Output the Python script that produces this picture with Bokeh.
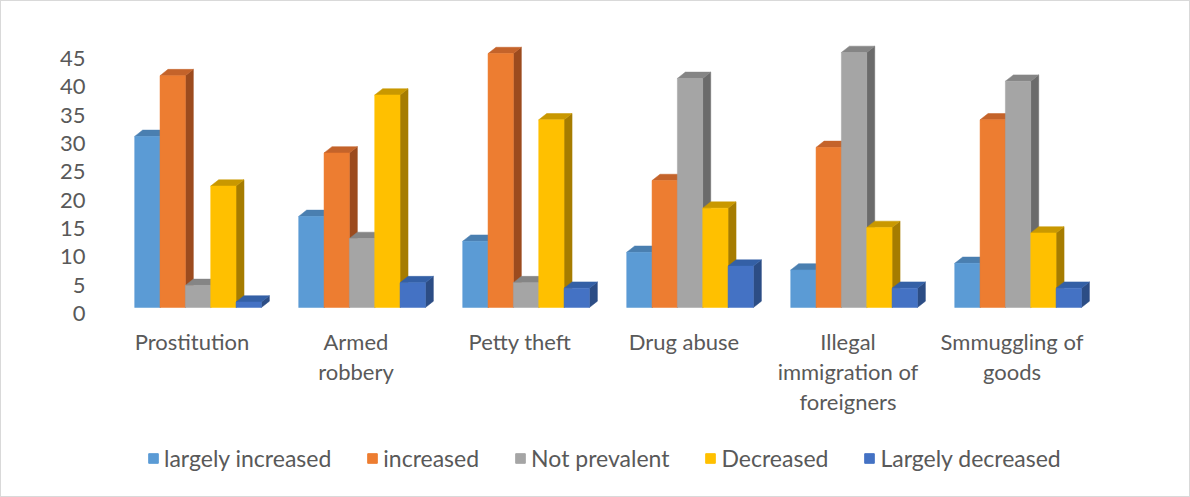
from bokeh.plotting import figure
from bokeh.models import Range1d, LinearAxis, FixedTicker, Legend, LegendItem
from bokeh.layouts import column
from bokeh.embed import file_html
from bokeh.resources import INLINE

# ---- data ----
categories = ["Prostitution", "Armed robbery", "Petty theft", "Drug abuse",
              "Illegal immigration of foreigners", "Smmuggling of goods"]
category_labels = ["Prostitution", "Armed\nrobbery", "Petty theft", "Drug abuse",
                   "Illegal\nimmigration of\nforeigners", "Smmuggling of\ngoods"]
series_names = ["largely increased", "increased", "Not prevalent", "Decreased", "Largely decreased"]
largely_increased = [31, 16.5, 12, 10, 6.8, 8]
increased = [42, 28, 46, 23, 29, 34]
not_prevalent = [4, 12.5, 4.5, 41.5, 46.2, 41]
decreased = [22, 38.5, 34, 18, 14.5, 13.5]
largely_decreased = [1, 4.5, 3.5, 7.5, 3.5, 3.5]
y_ticks = [0, 5, 10, 15, 20, 25, 30, 35, 40, 45]

series_values = [largely_increased, increased, not_prevalent, decreased, largely_decreased]

front_colors = ["#5B9BD5", "#ED7D31", "#A5A5A5", "#FFC000", "#4472C4"]
top_colors = ["#4A7FB0", "#C4632A", "#858585", "#C99800", "#3460A6"]
side_colors = ["#3F6C97", "#9C4B1E", "#6B6B6B", "#A67C00", "#2C4D85"]

FONT = "Lato"
TEXT = "#595959"
BORDER = "1px solid #D9D9D9"

W = 1190
p = figure(width=W, height=430, output_backend="svg", toolbar_location=None,
           x_range=Range1d(-0.619, 6.027), y_range=Range1d(-2.536, 50.0),
           x_axis_location=None, y_axis_location=None,
           min_border_left=95, min_border_right=5, min_border_top=30, min_border_bottom=110)
p.xgrid.visible = False
p.ygrid.visible = False
p.outline_line_color = None
p.background_fill_color = "white"
p.border_fill_color = "white"
p.styles = {"border-top": BORDER, "border-left": BORDER, "border-right": BORDER,
            "box-sizing": "border-box"}

# axes on shifted ranges (3D floor front edge)
p.extra_y_ranges = {"ax": Range1d(-1.41, 49.76)}
p.extra_x_ranges = {"ax": Range1d(-0.582, 6.064)}

yaxis = LinearAxis(y_range_name="ax", ticker=FixedTicker(ticks=y_ticks))
yaxis.axis_line_color = None
yaxis.major_tick_line_color = None
yaxis.minor_tick_line_color = None
yaxis.major_label_text_font = FONT
yaxis.major_label_text_font_size = "22px"
yaxis.major_label_text_color = TEXT
yaxis.major_label_standoff = 5
p.add_layout(yaxis, "left")

xaxis = LinearAxis(x_range_name="ax", ticker=FixedTicker(ticks=list(range(len(categories)))),
                   major_label_overrides={i: lab for i, lab in enumerate(category_labels)})
xaxis.axis_line_color = None
xaxis.major_tick_line_color = None
xaxis.minor_tick_line_color = None
xaxis.major_label_text_font = FONT
xaxis.major_label_text_font_size = "22px"
xaxis.major_label_text_color = TEXT
xaxis.major_label_text_line_height = 1.12
xaxis.major_label_standoff = 0
p.add_layout(xaxis, "below")

# 3D geometry
bar_w = 0.1545
group_w = bar_w * len(series_names)
dx = 8 / 164.0
dy = 6.3 / 5.52

for j, vals in enumerate(series_values):
    x0 = [k - group_w / 2 + j * bar_w for k in range(len(categories))]
    x1 = [a + bar_w for a in x0]
    side_xs = [[b, b + dx, b + dx, b] for b in x1]
    side_ys = [[0, dy, v + dy, v] for v in vals]
    top_xs = [[a, b, b + dx, a + dx] for a, b in zip(x0, x1)]
    top_ys = [[v, v, v + dy, v + dy] for v in vals]
    p.patches(side_xs, side_ys, fill_color=side_colors[j], line_color=side_colors[j], line_width=0.5)
    p.patches(top_xs, top_ys, fill_color=top_colors[j], line_color=top_colors[j], line_width=0.5)
    p.quad(left=x0, right=x1, bottom=[0] * len(vals), top=vals,
           fill_color=front_colors[j], line_color=front_colors[j], line_width=0.5)

# legend strip (proxy glyphs lie outside the visible range)
lg = figure(width=W, height=67, output_backend="svg", toolbar_location=None,
            x_range=Range1d(0, 1), y_range=Range1d(0, 1),
            x_axis_location=None, y_axis_location=None, min_border=0)
lg.xgrid.visible = False
lg.ygrid.visible = False
lg.outline_line_color = None
lg.styles = {"border-bottom": BORDER, "border-left": BORDER, "border-right": BORDER,
             "box-sizing": "border-box"}
items = []
for j, name in enumerate(series_names):
    r = lg.quad(left=[5], right=[6], bottom=[5], top=[6],
                fill_color=front_colors[j], line_color=front_colors[j])
    items.append(LegendItem(label=name, renderers=[r]))

legend = Legend(items=items, orientation="horizontal", location=(51, 25))
legend.label_text_font = FONT
legend.label_text_font_size = "23px"
legend.label_text_color = TEXT
legend.glyph_width = 12
legend.glyph_height = 12
legend.label_standoff = 5
legend.spacing = 35
legend.border_line_color = None
legend.background_fill_alpha = 0
legend.margin = 0
legend.padding = 4
lg.add_layout(legend, "center")

layout = column(p, lg, spacing=0)
open("out.html", "w").write(file_html(layout, INLINE))
